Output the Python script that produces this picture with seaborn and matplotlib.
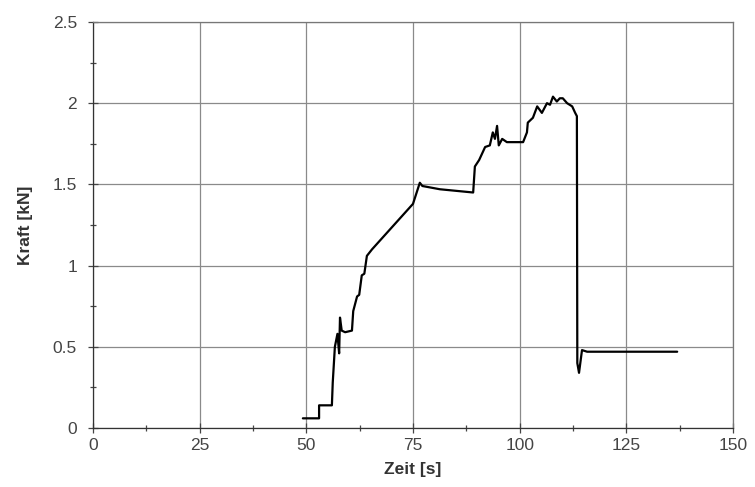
import matplotlib
matplotlib.use("Agg")
import matplotlib.pyplot as plt
import seaborn as sns
import pandas as pd
from matplotlib.ticker import MultipleLocator, FormatStrFormatter

# force curve
zeit = [49.2, 53.0, 53.0, 56.0, 56.2, 56.7, 57.3, 57.7, 57.9, 58.3, 59.1, 60.7,
        61.0, 61.9, 62.4, 63.0, 63.6, 64.2, 65.4, 75.0, 76.6, 77.2, 81.3, 89.1,
        89.5, 90.5, 91.9, 93.0, 93.7, 94.2, 94.7, 95.1, 95.9, 97.0, 100.8,
        101.7, 101.9, 103.1, 104.1, 105.2, 106.4, 107.1, 107.8, 108.7, 109.4,
        110.1, 111.1, 112.3, 113.0, 113.4, 113.5, 113.9, 114.6, 115.8, 125.0,
        136.9]
kraft = [0.06, 0.06, 0.14, 0.14, 0.28, 0.50, 0.58, 0.46, 0.68, 0.60, 0.59, 0.60,
         0.72, 0.81, 0.82, 0.94, 0.95, 1.06, 1.10, 1.38, 1.51, 1.49, 1.47, 1.45,
         1.61, 1.65, 1.73, 1.74, 1.82, 1.78, 1.86, 1.74, 1.78, 1.76, 1.76,
         1.82, 1.88, 1.91, 1.98, 1.94, 2.00, 1.99, 2.04, 2.01, 2.03,
         2.03, 2.00, 1.98, 1.94, 1.92, 0.40, 0.34, 0.48, 0.47, 0.47,
         0.47]

df = pd.DataFrame({'Zeit': zeit, 'Kraft': kraft})

sns.set_style('white')
plt.rcParams['font.family'] = ['Liberation Sans', 'DejaVu Sans']

fig = plt.figure(figsize=(7.55, 4.87), dpi=100)
ax = fig.add_axes([0.123, 0.121, 0.848, 0.834])

sns.lineplot(data=df, x='Zeit', y='Kraft', sort=False, estimator=None,
             color='black', linewidth=1.6, ax=ax)

ax.set_xlim(0, 150)
ax.set_ylim(0, 2.5)
ax.xaxis.set_major_locator(MultipleLocator(25))
ax.xaxis.set_minor_locator(MultipleLocator(12.5))
ax.yaxis.set_major_locator(MultipleLocator(0.5))
ax.yaxis.set_minor_locator(MultipleLocator(0.25))
ax.yaxis.set_major_formatter(FormatStrFormatter('%g'))
ax.grid(True, which='major', color='#8a8a8a', linewidth=0.9)
ax.tick_params(which='both', direction='inout', color='#444444',
               bottom=True, left=True, labelsize=12.5, labelcolor='#444444')
ax.tick_params(which='major', length=7, width=0.9)
ax.tick_params(which='minor', length=5, width=0.9)
ax.tick_params(axis='y', which='major', pad=8)
ax.tick_params(axis='x', which='major', pad=4)
for s in ax.spines.values():
    s.set_color('#777777')
    s.set_linewidth(0.9)
ax.spines['left'].set_color('#333333')
ax.spines['bottom'].set_color('#333333')

ax.set_xlabel('Zeit [s]', fontsize=12.5, fontweight='bold', color='#333333', labelpad=6)
ax.set_ylabel('Kraft [kN]', fontsize=12.5, fontweight='bold', color='#333333', labelpad=14)

fig.savefig('out.png', dpi=100)
